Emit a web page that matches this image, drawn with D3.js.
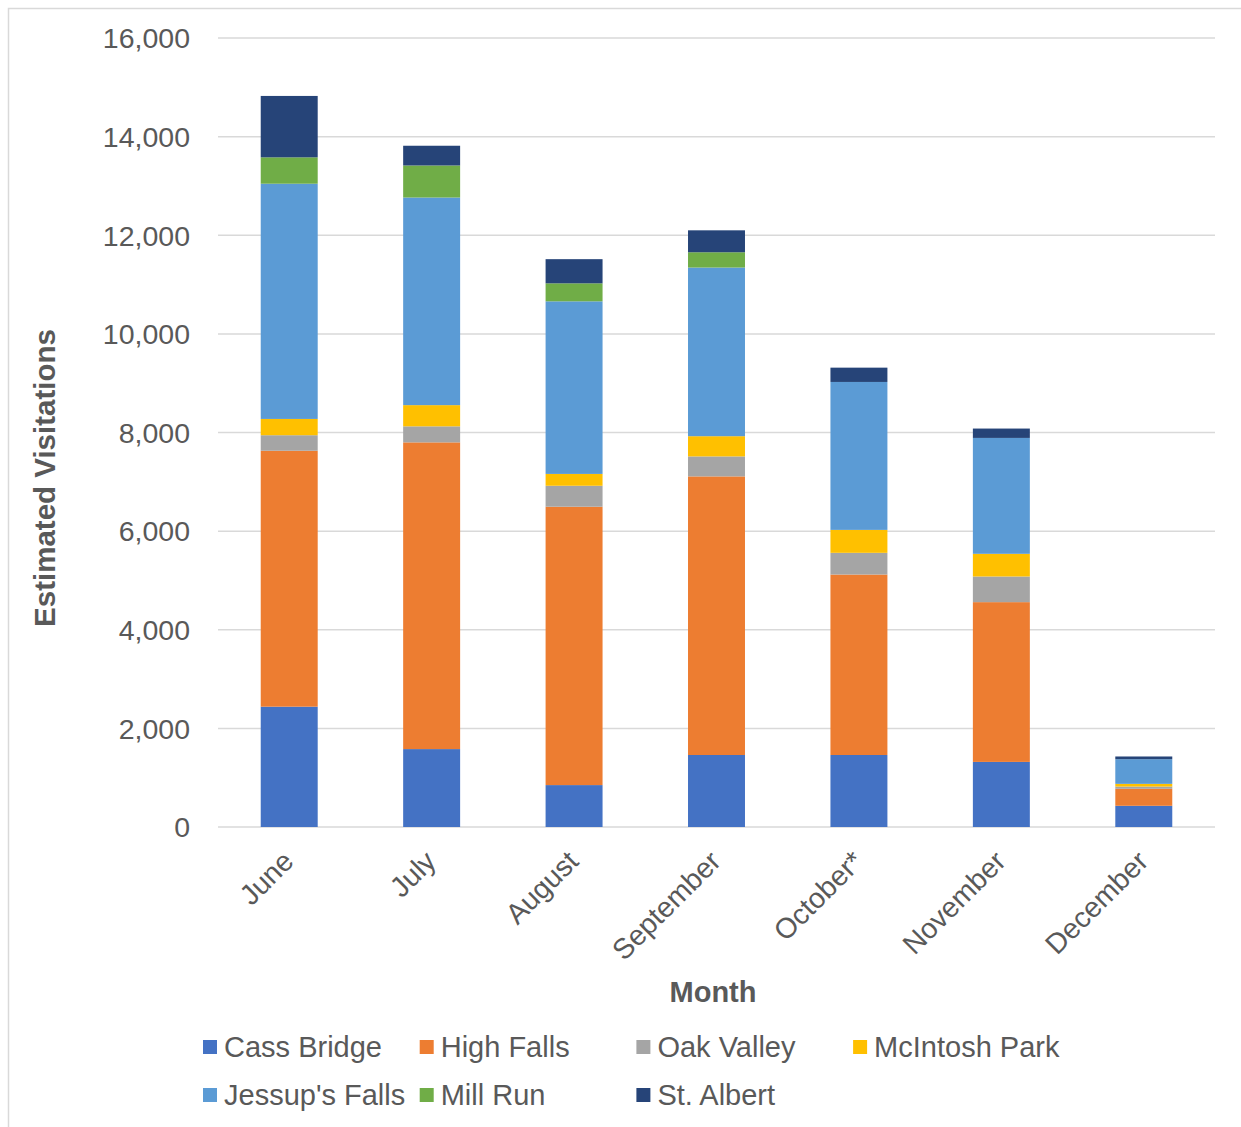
<!DOCTYPE html>
<html><head><meta charset="utf-8">
<script src="https://cdn.jsdelivr.net/npm/d3@7"></script>
<style>body{margin:0;background:#fff}svg{display:block;font-family:"Liberation Sans",Arial,sans-serif}</style>
</head><body><svg id="c" width="1241" height="1127"></svg>
<script>
const months = ["June","July","August","September","October*","November","December"];
const seriesNames = ["Cass Bridge","High Falls","Oak Valley","McIntosh Park","Jessup's Falls","Mill Run","St. Albert"];
const colors = ["#4472C4","#ED7D31","#A5A5A5","#FFC000","#5B9BD5","#70AD47","#264478"];
const cassBridge   = [2440,1580,850,1460,1460,1320,430];
const highFalls    = [5190,6220,5645,5650,3660,3240,345];
const oakValley    = [315,325,425,405,440,520,45];
const mcintoshPark = [330,430,240,410,465,460,55];
const jessupsFalls = [4770,4210,3500,3420,3000,2350,500];
const millRun      = [535,650,365,310,0,0,0];
const stAlbert     = [1245,400,490,445,290,190,55];
const yTicks = [0,2000,4000,6000,8000,10000,12000,14000,16000];

const values = [cassBridge,highFalls,oakValley,mcintoshPark,jessupsFalls,millRun,stAlbert];
const table = months.map((m,i)=>{const o={month:m};seriesNames.forEach((s,j)=>o[s]=values[j][i]);return o;});
const stacked = d3.stack().keys(seriesNames)(table);

const svg = d3.select("#c");
const L=218,R=1215,T=38,B=827;
const x = d3.scaleBand().domain(months).range([L,R]).paddingInner(0.6).paddingOuter(0.3);
const y = d3.scaleLinear().domain([0,16000]).range([B,T]);
const txt = "#595959";

svg.append("rect").attr("x",8.5).attr("y",8.5).attr("width",1240).attr("height",1125)
  .attr("fill","none").attr("stroke","#d9d9d9").attr("stroke-width",1.5);

// grid
svg.append("g").selectAll("line").data(yTicks).join("line")
  .attr("x1",L).attr("x2",R).attr("y1",d=>y(d)).attr("y2",d=>y(d))
  .attr("stroke","#d9d9d9").attr("stroke-width",1.5);

// y labels
svg.append("g").selectAll("text").data(yTicks).join("text")
  .attr("x",190).attr("y",d=>y(d)).attr("dy","0.36em").attr("text-anchor","end")
  .attr("font-size",28.5).attr("fill",txt).text(d=>d3.format(",")(d));

// bars
svg.append("g").selectAll("g").data(stacked).join("g")
  .attr("fill",(d,i)=>colors[i])
  .selectAll("rect").data(d=>d).join("rect")
  .attr("x",d=>x(d.data.month)).attr("width",x.bandwidth())
  .attr("y",d=>y(d[1])).attr("height",d=>Math.max(0,y(d[0])-y(d[1])));

// x labels
svg.append("g").selectAll("text").data(months).join("text")
  .attr("transform",d=>`translate(${x(d)+x.bandwidth()/2-1},${856}) rotate(-45)`)
  .attr("text-anchor","end").attr("dy","0.35em").attr("font-size",28.5).attr("fill",txt).text(d=>d);

// axis titles
svg.append("text").attr("x",713).attr("y",1002).attr("text-anchor","middle")
  .attr("font-size",29).attr("font-weight","bold").attr("fill",txt).text("Month");
svg.append("text").attr("transform","translate(55,478) rotate(-90)").attr("text-anchor","middle")
  .attr("font-size",29.5).attr("font-weight","bold").attr("fill",txt).text("Estimated Visitations");

// legend
const lg = svg.append("g").selectAll("g").data(seriesNames).join("g")
  .attr("transform",(d,i)=>`translate(${203+(i%4)*216.7},${1047+Math.floor(i/4)*48})`);
lg.append("rect").attr("x",0).attr("y",-7).attr("width",14).attr("height",14).attr("fill",(d,i)=>colors[i]);
lg.append("text").attr("x",21).attr("dy","0.36em").attr("font-size",29).attr("fill",txt).text(d=>d);
</script></body></html>
